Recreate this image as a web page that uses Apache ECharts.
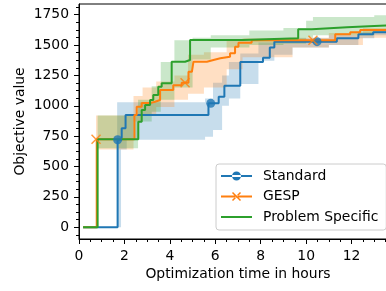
<!DOCTYPE html>
<html>
<head>
<meta charset="utf-8">
<script src="https://cdn.jsdelivr.net/npm/echarts@6/dist/echarts.min.js"></script>
<style>
  html, body { margin: 0; padding: 0; background: #fff; }
  #chart { width: 386px; height: 291px; }
</style>
</head>
<body>
<div id="chart"></div>
<script>
// mean curves (hours, objective value), post-step
var stdX = [0.18, 1.70, 1.88, 2.05, 5.70, 6.15, 6.40, 7.10, 8.10, 8.40, 8.60, 11.35, 12.30, 12.95, 14];
var stdY = [0, 720, 815, 925, 1020, 1075, 1165, 1360, 1395, 1480, 1528, 1555, 1588, 1605, 1610];

var gespX = [0.18, 0.78, 2.44, 2.54, 2.76, 3.13, 3.35, 3.57, 4.15, 4.52, 4.82, 4.97, 5.04, 5.63, 5.92, 6.22, 6.65, 6.87, 7.02, 7.60, 11.28, 11.94, 12.38, 14];
var gespY = [0, 725, 923, 992, 1022, 1033, 1047, 1130, 1170, 1190, 1280, 1294, 1363, 1377, 1391, 1404, 1432, 1486, 1519, 1540, 1588, 1605, 1624, 1630];

var psX = [0.18, 0.82, 2.61, 2.76, 2.91, 3.13, 3.27, 3.49, 3.64, 4.08, 4.67, 4.89, 7.22, 9.65, 10.25, 11.80, 13.0, 14];
var psY = [0, 725, 868, 965, 1006, 1047, 1088, 1157, 1185, 1363, 1377, 1542, 1555, 1630, 1646, 1657, 1665, 1665];

// spread bands
var stdBandX = [0.18, 1.68, 1.85, 2.10, 5.55, 5.90, 6.30, 6.60, 7.10, 7.90, 8.60, 9.40, 11.0, 12.3, 13.0, 14];
var stdLo = [0, 0, 640, 720, 745, 800, 1000, 1060, 1180, 1370, 1420, 1480, 1500, 1555, 1580, 1590];
var stdHi = [0, 1030, 1030, 1030, 1060, 1190, 1250, 1360, 1430, 1520, 1545, 1555, 1580, 1610, 1630, 1630];

var gespBandX = [0.18, 0.75, 2.40, 2.80, 3.40, 4.20, 4.80, 5.50, 6.50, 7.20, 9.40, 11.0, 12.5, 14];
var gespLo = [0, 640, 870, 920, 990, 1050, 1100, 1150, 1300, 1400, 1480, 1500, 1560, 1570];
var gespHi = [0, 920, 1080, 1150, 1200, 1250, 1420, 1440, 1540, 1555, 1560, 1600, 1640, 1650];

var psBandX = [0.18, 0.82, 2.60, 3.20, 3.60, 4.20, 5.00, 5.80, 7.50, 9.00, 10.0, 10.3, 13.0, 14];
var psLo = [0, 650, 870, 950, 1050, 1150, 1380, 1480, 1500, 1510, 1560, 1580, 1600, 1610];
var psHi = [0, 920, 1050, 1160, 1360, 1540, 1560, 1580, 1620, 1640, 1700, 1730, 1745, 1745];

// markers drawn on the lines
var stdMarkers = [[1.70, 720], [5.80, 1020], [10.48, 1528]];
var gespMarkers = [[0.75, 725], [4.67, 1190], [10.30, 1540]];

var yTicks = [0, 250, 500, 750, 1000, 1250, 1500, 1750];
var yMinor = [-62.5, 62.5, 125, 187.5, 312.5, 375, 437.5, 562.5, 625, 687.5, 812.5, 875, 937.5,
  1062.5, 1125, 1187.5, 1312.5, 1375, 1437.5, 1562.5, 1625, 1687.5, 1812.5];

var BLUE = '#1f77b4', ORANGE = '#ff7f0e', GREEN = '#2ca02c';
var FONT = 'DejaVu Sans';

function zip(xs, ys) {
  return xs.map(function (x, i) { return [x, ys[i]]; });
}

function plain(v) { return String(v); }

function band(name, xs, lo, hi, color) {
  return {
    name: name,
    type: 'custom',
    silent: true,
    z: 1,
    data: [[xs[0], lo[0]]],
    renderItem: function (params, api) {
      var pts = [];
      var n = xs.length;
      for (var i = 0; i < n; i++) {
        var nx = i + 1 < n ? xs[i + 1] : xs[i];
        pts.push(api.coord([xs[i], hi[i]]));
        pts.push(api.coord([nx, hi[i]]));
      }
      for (var j = n - 1; j >= 0; j--) {
        var nx2 = j + 1 < n ? xs[j + 1] : xs[j];
        pts.push(api.coord([nx2, lo[j]]));
        pts.push(api.coord([xs[j], lo[j]]));
      }
      var cs = params.coordSys;
      return {
        type: 'polygon',
        shape: { points: pts },
        style: { fill: color, opacity: 0.25 },
        clipPath: { type: 'rect', shape: { x: cs.x, y: cs.y, width: cs.width, height: cs.height } }
      };
    }
  };
}

function stepLine(name, xs, ys, color) {
  return {
    name: name,
    type: 'line',
    step: 'end',
    data: zip(xs, ys),
    showSymbol: false,
    symbol: 'none',
    z: 3,
    lineStyle: { color: color, width: 2 },
    itemStyle: { color: color }
  };
}

var chart = echarts.init(document.getElementById('chart'), null, { renderer: 'canvas' });

var option = {
  animation: false,
  backgroundColor: '#ffffff',
  textStyle: { fontFamily: FONT },
  grid: {
    left: 79, top: 4, right: -11, bottom: 52,
    containLabel: false,
    outerBoundsMode: 'none',
    show: true, borderColor: '#000', borderWidth: 1, backgroundColor: 'transparent'
  },
  legend: {
    orient: 'vertical',
    left: 216, top: 164,
    padding: [5, 8, 6, 5],
    itemGap: 6.5,
    itemWidth: 31,
    itemHeight: 10,
    backgroundColor: 'rgba(255,255,255,0.8)',
    borderColor: '#cccccc',
    borderWidth: 1,
    borderRadius: 3,
    itemStyle: { borderWidth: 0 },
    textStyle: { fontFamily: FONT, fontSize: 13.9, color: '#000', padding: [0, 0, 0, 6] },
    data: [
      { name: 'Standard', icon: 'path://M0,0M31,10M0,4h31v2h-31z M11,5a4.5,4.5 0 1,0 9,0a4.5,4.5 0 1,0 -9,0z' },
      { name: 'GESP', icon: 'path://M0,0M31,10M0,4h31v2h-31z M12.03,0.47L20.03,8.47L18.97,9.53L10.97,1.53z M12.03,9.53L20.03,1.53L18.97,0.47L10.97,8.47z' },
      { name: 'Problem Specific', icon: 'path://M0,0M31,10M0,4h31v2h-31z' }
    ]
  },
  xAxis: {
    type: 'value',
    min: 0, max: 14, interval: 2,
    name: 'Optimization time in hours',
    nameLocation: 'middle',
    nameGap: 28,
    nameMoveOverlap: false,
    nameTextStyle: { fontFamily: FONT, fontSize: 13.9, color: '#000' },
    axisLine: { show: true, onZero: false, lineStyle: { color: '#000', width: 1 } },
    axisTick: { show: true, length: 5, lineStyle: { color: '#000', width: 1 } },
    minorTick: { show: true, splitNumber: 4, length: 3, lineStyle: { color: '#000', width: 1 } },
    axisLabel: { fontFamily: FONT, fontSize: 13.9, color: '#000', margin: 10, formatter: plain },
    splitLine: { show: false }
  },
  yAxis: [{
    type: 'value',
    min: -97, max: 1838,
    position: 'left',
    name: 'Objective value',
    nameLocation: 'middle',
    nameGap: 52,
    nameMoveOverlap: false,
    nameTextStyle: { fontFamily: FONT, fontSize: 13.9, color: '#000' },
    axisLine: { show: true, onZero: false, lineStyle: { color: '#000', width: 1 } },
    axisTick: { show: true, length: 5, customValues: yTicks, lineStyle: { color: '#000', width: 1 } },
    axisLabel: { fontFamily: FONT, fontSize: 13.9, color: '#000', margin: 10, customValues: yTicks, formatter: plain },
    splitLine: { show: false }
  }, {
    type: 'value',
    min: -97, max: 1838,
    position: 'left',
    axisLine: { show: false },
    axisTick: { show: true, length: 3, customValues: yMinor, lineStyle: { color: '#000', width: 1 } },
    axisLabel: { show: false },
    splitLine: { show: false }
  }],
  series: [
    band('Standard band', stdBandX, stdLo, stdHi, BLUE),
    band('GESP band', gespBandX, gespLo, gespHi, ORANGE),
    band('Problem Specific band', psBandX, psLo, psHi, GREEN),
    stepLine('Standard', stdX, stdY, BLUE),
    {
      name: 'Standard markers', type: 'scatter', data: stdMarkers, z: 4,
      symbol: 'circle', symbolSize: 9, itemStyle: { color: BLUE }, silent: true
    },
    stepLine('GESP', gespX, gespY, ORANGE),
    {
      name: 'GESP markers', type: 'scatter', data: gespMarkers, z: 5,
      symbol: 'path://M0,0L8,8M8,0L0,8', symbolSize: 9, silent: true,
      itemStyle: { color: 'rgba(0,0,0,0)', borderColor: ORANGE, borderWidth: 1.5 }
    },
    stepLine('Problem Specific', psX, psY, GREEN)
  ]
};

chart.setOption(option);
</script>
</body>
</html>
